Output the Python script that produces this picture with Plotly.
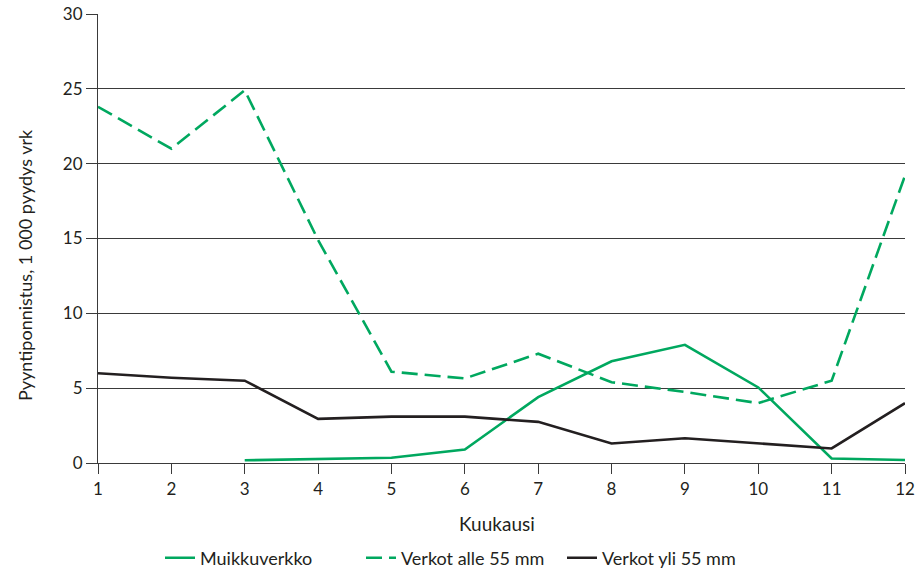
import plotly.graph_objects as go

months = [1, 2, 3, 4, 5, 6, 7, 8, 9, 10, 11, 12]
muikkuverkko = [None, None, 0.18, 0.25, 0.35, 0.9, 4.4, 6.8, 7.9, 5.05, 0.3, 0.2]
verkot_alle_55 = [23.8, 21.0, 24.9, 14.9, 6.1, 5.65, 7.3, 5.4, 4.75, 4.0, 5.5, 19.2]
verkot_yli_55 = [6.0, 5.7, 5.5, 2.95, 3.1, 3.1, 2.75, 1.3, 1.65, 1.3, 0.97, 4.0]
y_ticks = [0, 5, 10, 15, 20, 25, 30]

GREEN = "#00a85f"
BLACK = "#231f20"
AXIS = "#3a3a3a"
FONT = "Lato, 'Open Sans', sans-serif"

fig = go.Figure()
fig.add_trace(go.Scatter(x=months, y=muikkuverkko, mode="lines", name="Muikkuverkko",
                         line=dict(color=GREEN, width=2.6)))
fig.add_trace(go.Scatter(x=months, y=verkot_alle_55, mode="lines", name="Verkot alle 55 mm",
                         line=dict(color=GREEN, width=2.6, dash="16px,7px")))
fig.add_trace(go.Scatter(x=months, y=verkot_yli_55, mode="lines", name="Verkot yli 55 mm",
                         line=dict(color=BLACK, width=2.6)))

L, R, T, B = 98, 12, 14, 111
W, H = 917, 574
pw, ph = W - L - R, H - T - B

def px_x(x):
    return (x - L) / pw

def px_y(y):
    return (H - B - y) / ph

fig.update_layout(
    width=W, height=H,
    margin=dict(l=L, r=R, t=T, b=B),
    plot_bgcolor="white", paper_bgcolor="white",
    font=dict(family=FONT, size=17, color=BLACK),
    showlegend=True,
    legend=dict(orientation="h", xref="container", yref="container",
                x=160 / W, xanchor="left", y=1 - 558 / H, yanchor="middle",
                font=dict(size=18), itemwidth=30, entrywidth=156, bgcolor="rgba(0,0,0,0)"),
    xaxis=dict(range=[1, 12], tickvals=months, ticks="outside", ticklen=10, tickwidth=1.2,
               tickcolor=AXIS, showgrid=False, showline=True, linecolor=AXIS, linewidth=1.2,
               zeroline=False, automargin=False),
    yaxis=dict(range=[0, 30], tickvals=y_ticks, ticks="outside", ticklen=11,
               tickwidth=1.2, tickcolor=AXIS, showgrid=True, gridcolor=AXIS, gridwidth=1,
               showline=True, linecolor=AXIS, linewidth=1.2, zeroline=False, automargin=False),
    annotations=[
        dict(text="Kuukausi", xref="paper", yref="paper", x=px_x(497), y=px_y(523),
             xanchor="center", yanchor="middle", showarrow=False, font=dict(size=19)),
        dict(text="Pyyntiponnistus, 1 000 pyydys vrk", xref="paper", yref="paper",
             x=px_x(25), y=px_y(265), xanchor="center", yanchor="middle", textangle=-90,
             showarrow=False, font=dict(size=18)),
    ],
)

fig.write_html("out.html", config={"displayModeBar": False},
               post_script="document.body.style.margin='0';document.body.style.overflow='hidden';")
